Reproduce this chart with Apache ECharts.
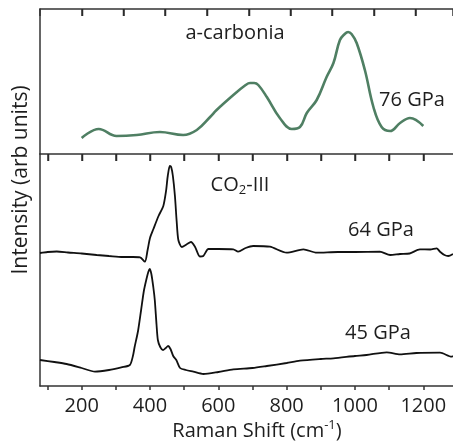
<!DOCTYPE html>
<html>
<head>
<meta charset="utf-8">
<script src="https://cdn.jsdelivr.net/npm/echarts@6/dist/echarts.min.js"></script>
<style>
html,body{margin:0;padding:0;background:#fff;}
#chart{width:453px;height:444px;}
</style>
</head>
<body>
<div id="chart"></div>
<script>
// ---- data (Raman shift in cm-1, intensity in arbitrary units) ----
const carboniaShift = [200,250,302,361,429,497,537,576,595,644,680,693,705,717,742,780,815,839,859,888,917,937,956,970,980,990,1005,1029,1054,1078,1103,1132,1161,1200];
const carboniaInt   = [16,25,18,19,22,19,24,37,44,59,69,71,71,69,57,36,25,27,41,54,77,91,114,120,122,120,111,84,47,27,23,31,36,28];

const co2_64Shift = [78,100,127,160,200,244,280,320,350,371,385,393,400,410,425,439,447,452,458,462,467,473,478,483,493,507,520,532,546,556,571,600,644,658,680,702,751,800,849,888,950,1000,1073,1103,1132,1160,1190,1220,1239,1249,1262,1273,1287];
const co2_64Int   = [133,134,134.5,133.5,132.5,131,130,129,129,128.7,124.3,136,148,157,170,180,195,210,220,219,210,190,165,146,139,141.5,144,139,129.5,130,137,137,136.7,134.3,138,140,139.3,133.3,136.7,133.3,134,134,134.3,131,132,132.5,136.7,136.5,137.7,134.3,131,130,132];

const co2_45Shift = [78,120,156,200,239,280,316,341,350,355,365,374,382,389,395,399,404,410,414,419,423,430,438,446,453,460,468,477,488,505,527,556,600,644,700,742,800,839,900,937,1000,1034,1093,1132,1180,1249,1283,1287];
const co2_45Int   = [26,24,22,18,14.3,16,18.7,21,30,39,55,76,95,106,114,117,112,98,86,62,46,39,36,38,40,37,30,26,18,16,14.3,12,14,16.7,18,20,23,25.3,27,27.7,30,31,33.7,31.7,33,33.3,29.3,30];

const bottomTicks = [100,200,300,400,500,600,700,800,900,1000,1100,1200];
const bottomLabels = [200,400,600,800,1000,1200];
const topPanelTicks = [200,300,400,500,600,700,800,900,1000];

const zip = (xs, ys) => xs.map((x, i) => [x, ys[i]]);

const FONT = '"Open Sans", "Liberation Sans", sans-serif';
const TXT = '#1e1e1e';
const AX = '#333';
const axLine = {show:true, onZero:false, lineStyle:{color:AX, width:1.5}};
const tickStyle = {color:AX, width:1.5};

const chart = echarts.init(document.getElementById('chart'), null, {renderer: 'canvas'});

const textGraphics = [
  {type:'text', x:235, y:33, style:{text:'a-carbonia', fontSize:20, fontFamily:FONT, fill:TXT, align:'center', verticalAlign:'middle'}},
  {type:'text', x:412, y:100, style:{text:'76 GPa', fontSize:20, fontFamily:FONT, fill:TXT, align:'center', verticalAlign:'middle'}},
  {type:'text', x:240, y:185, style:{text:'{a|CO}{s|2}{a|-III}', fontSize:20, fontFamily:FONT, fill:TXT, align:'center', verticalAlign:'middle',
    rich:{a:{fontSize:20, fontFamily:FONT, fill:TXT, lineHeight:24}, s:{fontSize:13, fontFamily:FONT, fill:TXT, lineHeight:12, verticalAlign:'bottom'}}}},
  {type:'text', x:381, y:230, style:{text:'64 GPa', fontSize:20, fontFamily:FONT, fill:TXT, align:'center', verticalAlign:'middle'}},
  {type:'text', x:378, y:333, style:{text:'45 GPa', fontSize:20, fontFamily:FONT, fill:TXT, align:'center', verticalAlign:'middle'}},
  {type:'text', x:257, y:431, style:{text:'{a|Raman Shift (cm}{b|-1}{a|)}', fontSize:20, fontFamily:FONT, fill:TXT, align:'center', verticalAlign:'middle',
    rich:{a:{fontSize:20, fontFamily:FONT, fill:TXT, lineHeight:24}, b:{fontSize:13, fontFamily:FONT, fill:TXT, lineHeight:13, verticalAlign:'top'}}}},
  {type:'text', x:21, y:180, rotation:Math.PI/2, style:{text:'Intensity (arb units)', fontSize:21, fontFamily:FONT, fill:TXT, align:'center', verticalAlign:'middle'}}
];

chart.setOption({
  animation: false,
  backgroundColor: '#fff',
  grid: [
    {left: 40, top: 9, width: 413, height: 145},
    {left: 40, top: 154, width: 413, height: 232},
    {left: 40, top: 0, width: 413, height: 9}
  ],
  xAxis: [
    {type:'value', gridIndex:0, position:'bottom', min:78, max:1287,
      axisLine: axLine,
      axisTick:{show:true, inside:false, length:7, customValues: bottomTicks, lineStyle: tickStyle},
      axisLabel:{show:false}, splitLine:{show:false}},
    {type:'value', gridIndex:1, position:'bottom', min:78, max:1287,
      axisLine: axLine,
      axisTick:{show:true, inside:false, length:4, customValues: bottomTicks, lineStyle: tickStyle},
      axisLabel:{show:true, customValues: bottomLabels, formatter: v => String(v), margin:10, fontSize:20, fontFamily:FONT, color:TXT},
      splitLine:{show:false}},
    {type:'value', gridIndex:2, position:'bottom', min:100, max:1090, interval:100,
      axisLine: axLine,
      axisTick:{show:true, inside:false, length:7, lineStyle: tickStyle},
      axisLabel:{show:false}, splitLine:{show:false}}
  ],
  yAxis: [
    {type:'value', gridIndex:0, min:0, max:145,
      axisLine: axLine, axisTick:{show:false}, axisLabel:{show:false}, splitLine:{show:false}},
    {type:'value', gridIndex:1, min:0, max:232,
      axisLine: axLine, axisTick:{show:false}, axisLabel:{show:false}, splitLine:{show:false}},
    {type:'value', gridIndex:2, min:0, max:1, show:false}
  ],
  series: [
    {name:'a-carbonia 76 GPa', type:'line', xAxisIndex:0, yAxisIndex:0, data: zip(carboniaShift, carboniaInt),
      showSymbol:false, smooth:0.4, lineStyle:{color:'#4f7f63', width:2.6}},
    {name:'CO2-III 64 GPa', type:'line', xAxisIndex:1, yAxisIndex:1, data: zip(co2_64Shift, co2_64Int),
      showSymbol:false, smooth:0.25, lineStyle:{color:'#111', width:1.8}},
    {name:'45 GPa', type:'line', xAxisIndex:1, yAxisIndex:1, data: zip(co2_45Shift, co2_45Int),
      showSymbol:false, smooth:0.25, lineStyle:{color:'#111', width:1.8}}
  ],
  graphic: textGraphics
});

// Inward tick marks placed through the library's own axis scales
const topY = chart.convertToPixel({yAxisIndex:0}, 145);
const dividerY = chart.convertToPixel({yAxisIndex:1}, 232);
const tickLines = [];
topPanelTicks.forEach(v => {
  const x = Math.round(chart.convertToPixel({xAxisIndex:2}, v)) + 0.5;
  tickLines.push({type:'line', silent:true, z:50,
    shape:{x1:x, y1:topY, x2:x, y2:topY + 7}, style:{stroke:'#2a2a2a', lineWidth:1.5}});
});
bottomTicks.forEach(v => {
  const x = Math.round(chart.convertToPixel({xAxisIndex:0}, v)) + 0.5;
  tickLines.push({type:'line', silent:true, z:50,
    shape:{x1:x, y1:dividerY, x2:x, y2:dividerY + 7}, style:{stroke:'#2a2a2a', lineWidth:1.5}});
});
chart.setOption({graphic: textGraphics.concat(tickLines)}, {replaceMerge: ['graphic']});
</script>
</body>
</html>
